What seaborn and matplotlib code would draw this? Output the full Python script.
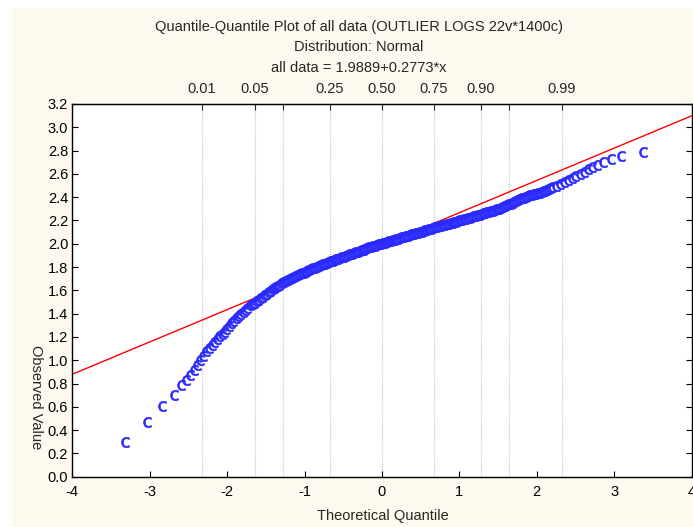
import matplotlib
matplotlib.use("Agg")
import matplotlib.pyplot as plt
from matplotlib.patches import Rectangle
from statistics import NormalDist
import seaborn as sns
import pandas as pd

# Normal Q-Q points: theoretical quantile vs observed value
theoretical = [
    -3.32, -3.04, -2.84, -2.69, -2.59, -2.53, -2.48, -2.43, -2.385, -2.35,
    -2.31, -2.27, -2.235, -2.20, -2.165, -2.13, -2.10, -2.07, -2.04, -2.01,
    -1.98, -1.95, -1.92, -1.89, -1.86, -1.83, -1.80, -1.77, -1.74, -1.70,
    -1.675, -1.65, -1.625, -1.60, -1.575, -1.55, -1.525, -1.50, -1.475, -1.45,
    -1.425, -1.40, -1.375, -1.35, -1.325, -1.30, -1.275, -1.25, -1.225, -1.20,
    -1.175, -1.15, -1.125, -1.10, -1.075, -1.05, -1.025, -1.00, -0.975, -0.95,
    -0.925, -0.90, -0.875, -0.85, -0.825, -0.80, -0.775, -0.75, -0.725, -0.70,
    -0.675, -0.65, -0.625, -0.60, -0.575, -0.55, -0.525, -0.50, -0.475, -0.45,
    -0.425, -0.40, -0.375, -0.35, -0.325, -0.30, -0.275, -0.25, -0.225, -0.20,
    -0.175, -0.15, -0.125, -0.10, -0.075, -0.05, -0.025, 0.00, 0.025, 0.05,
    0.075, 0.10, 0.125, 0.15, 0.175, 0.20, 0.225, 0.25, 0.275, 0.30,
    0.325, 0.35, 0.375, 0.40, 0.425, 0.45, 0.475, 0.50, 0.525, 0.55,
    0.575, 0.60, 0.625, 0.65, 0.675, 0.70, 0.725, 0.75, 0.775, 0.80,
    0.825, 0.85, 0.875, 0.90, 0.925, 0.95, 0.975, 1.00, 1.025, 1.05,
    1.075, 1.10, 1.125, 1.15, 1.175, 1.20, 1.225, 1.25, 1.275, 1.30,
    1.325, 1.35, 1.375, 1.40, 1.425, 1.45, 1.475, 1.50, 1.525, 1.55,
    1.575, 1.60, 1.625, 1.65, 1.675, 1.70, 1.725, 1.75, 1.775, 1.80,
    1.825, 1.85, 1.875, 1.90, 1.925, 1.95, 1.975, 2.00, 2.025, 2.05,
    2.075, 2.10, 2.125, 2.15, 2.175, 2.20, 2.25, 2.30, 2.35, 2.40,
    2.45, 2.50, 2.555, 2.606, 2.66, 2.72, 2.78, 2.856, 2.964, 3.093,
    3.372,
]
observed = [
    0.30, 0.47, 0.61, 0.70, 0.785, 0.83, 0.875, 0.92, 0.96, 1.005,
    1.04, 1.075, 1.105, 1.13, 1.155, 1.18, 1.205, 1.225, 1.245, 1.27,
    1.295, 1.32, 1.34, 1.36, 1.38, 1.40, 1.415, 1.43, 1.45, 1.47,
    1.482, 1.495, 1.508, 1.52, 1.532, 1.545, 1.558, 1.57, 1.582, 1.595,
    1.608, 1.62, 1.63, 1.64, 1.65, 1.66, 1.67, 1.68, 1.69, 1.70,
    1.708, 1.715, 1.722, 1.73, 1.738, 1.745, 1.752, 1.76, 1.768, 1.775,
    1.782, 1.79, 1.795, 1.80, 1.808, 1.815, 1.822, 1.83, 1.835, 1.84,
    1.848, 1.855, 1.86, 1.865, 1.872, 1.88, 1.885, 1.89, 1.895, 1.90,
    1.908, 1.915, 1.92, 1.925, 1.932, 1.94, 1.945, 1.95, 1.955, 1.96,
    1.968, 1.975, 1.98, 1.985, 1.99, 1.995, 2.00, 2.005, 2.01, 2.015,
    2.02, 2.025, 2.03, 2.035, 2.04, 2.045, 2.05, 2.055, 2.06, 2.065,
    2.07, 2.075, 2.08, 2.085, 2.09, 2.095, 2.10, 2.105, 2.11, 2.115,
    2.12, 2.125, 2.13, 2.135, 2.14, 2.145, 2.15, 2.155, 2.16, 2.165,
    2.168, 2.17, 2.175, 2.18, 2.185, 2.19, 2.195, 2.20, 2.205, 2.21,
    2.215, 2.22, 2.225, 2.23, 2.235, 2.24, 2.245, 2.25, 2.255, 2.26,
    2.265, 2.27, 2.275, 2.28, 2.285, 2.29, 2.295, 2.30, 2.308, 2.315,
    2.322, 2.33, 2.338, 2.345, 2.352, 2.36, 2.368, 2.375, 2.382, 2.39,
    2.395, 2.40, 2.408, 2.415, 2.42, 2.425, 2.43, 2.435, 2.44, 2.445,
    2.45, 2.455, 2.462, 2.47, 2.477, 2.485, 2.50, 2.515, 2.53, 2.55,
    2.565, 2.58, 2.60, 2.62, 2.644, 2.66, 2.68, 2.70, 2.724, 2.75,
    2.788,
]

# Fitted reference line: all data = 1.9889 + 0.2773*x
intercept = 1.9889
slope = 0.2773
line_x = [-4.0, 4.0]

# Probability scale shown on the top axis
prob_labels = ["0.01", "0.05", "0.25", "0.50", "0.75", "0.90", "0.99"]
prob_grid = [0.01, 0.05, 0.10, 0.25, 0.50, 0.75, 0.90, 0.95, 0.99]

x_ticks = [-4, -3, -2, -1, 0, 1, 2, 3, 4]
y_ticks = [0.0, 0.2, 0.4, 0.6, 0.8, 1.0, 1.2, 1.4, 1.6, 1.8, 2.0, 2.2, 2.4,
           2.6, 2.8, 3.0, 3.2]

sns.set_style("white")
plt.rcParams["font.family"] = ["Liberation Sans", "DejaVu Sans"]
fs = 10.5
plt.rcParams["font.size"] = fs

cream = "#FDF9EE"
fig = plt.figure(figsize=(6.93, 5.27), dpi=100, facecolor="white")
fig.patches.append(Rectangle((12 / 693, 0), 1, (527 - 8) / 527,
                             transform=fig.transFigure, facecolor=cream,
                             edgecolor="none", zorder=-10))

ax = fig.add_axes([72.3 / 693, 1 - 476.7 / 527, (691.5 - 72.3) / 693,
                   (476.7 - 104) / 527])
ax.set_facecolor("white")

nd = NormalDist()
for p in prob_grid:
    ax.axvline(nd.inv_cdf(p), color="#c8c8c8", linestyle=(0, (1, 1)),
               linewidth=0.9, zorder=0)

fit_df = pd.DataFrame({"x": line_x,
                       "y": [intercept + slope * v for v in line_x]})
sns.lineplot(data=fit_df, x="x", y="y", ax=ax, color="#ff0000",
             linewidth=1.0, zorder=2)

qq_df = pd.DataFrame({"q": theoretical, "v": observed})
sns.scatterplot(data=qq_df, x="q", y="v", ax=ax, marker=r"$\mathsf{c}$",
                s=55, color="#2a2aff", edgecolor="#2a2aff", linewidth=0.5,
                zorder=3)

ax.set_xlim(-4, 4)
ax.set_ylim(0, 3.2)
ax.set_xticks(x_ticks)
ax.set_xticklabels([str(t) for t in x_ticks])
ax.set_yticks(y_ticks)
ax.set_yticklabels([f"{t:.1f}" for t in y_ticks])
ax.set_xlabel("")
ax.set_ylabel("")
ax.tick_params(axis="both", direction="in", length=4, width=0.8,
               colors="black", labelsize=fs, pad=6)
ax.tick_params(axis="y", right=True, left=True, pad=3)
ax.tick_params(axis="x", bottom=True)
for s in ax.spines.values():
    s.set_color("black")
    s.set_linewidth(1.0)

top = ax.secondary_xaxis("top")
top.set_xticks([nd.inv_cdf(float(p)) for p in prob_labels])
top.set_xticklabels(prob_labels)
top.tick_params(direction="in", length=4, width=0.8, labelsize=fs, pad=6)
top.set_xticks([nd.inv_cdf(p) for p in prob_grid], minor=True)
top.tick_params(which="minor", direction="in", length=4, width=0.8)

fig.text(359 / 693, 1 - 27 / 527, "Quantile-Quantile Plot of all data (OUTLIER LOGS 22v*1400c)",
         ha="center", va="center", fontsize=fs)
fig.text(359 / 693, 1 - 47 / 527, "Distribution: Normal",
         ha="center", va="center", fontsize=fs)
fig.text(359 / 693, 1 - 68 / 527, "all data = 1.9889+0.2773*x",
         ha="center", va="center", fontsize=fs)
fig.text(383 / 693, 1 - 516 / 527, "Theoretical Quantile",
         ha="center", va="center", fontsize=fs)
fig.text(36 / 693, 1 - 397 / 527, "Observed Value", rotation=-90,
         ha="center", va="center", fontsize=fs)

fig.savefig("out.png", dpi=100, facecolor=fig.get_facecolor())
